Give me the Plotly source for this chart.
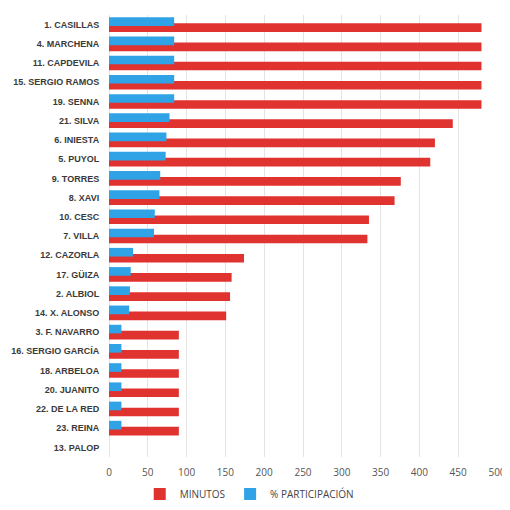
import plotly.graph_objects as go

players = ["1. CASILLAS", "4. MARCHENA", "11. CAPDEVILA", "15. SERGIO RAMOS", "19. SENNA",
           "21. SILVA", "6. INIESTA", "5. PUYOL", "9. TORRES", "8. XAVI", "10. CESC",
           "7. VILLA", "12. CAZORLA", "17. GÜIZA", "2. ALBIOL", "14. X. ALONSO",
           "3. F. NAVARRO", "16. SERGIO GARCÍA", "18. ARBELOA", "20. JUANITO",
           "22. DE LA RED", "23. REINA", "13. PALOP"]
minutos = [480, 480, 480, 480, 480, 443, 420, 414, 376, 368, 335, 333,
           174, 158, 156, 151, 90, 90, 90, 90, 90, 90, 0]
participacion = [84, 84, 84, 84, 84, 78, 74, 73, 66, 65, 59, 58,
                 31, 28, 27, 26, 16, 16, 16, 16, 16, 16, 0]
x_ticks = [0, 50, 100, 150, 200, 250, 300, 350, 400, 450, 500]

RED = "#e0322f"
BLUE = "#2fa3e6"
W = 0.45

fig = go.Figure()
fig.add_trace(go.Bar(
    y=players, x=minutos, orientation="h", name="MINUTOS",
    marker=dict(color=RED, line=dict(width=0)),
    width=W, offset=-0.069,
))
fig.add_trace(go.Bar(
    y=players, x=participacion, orientation="h", name="% PARTICIPACIÓN",
    marker=dict(color=BLUE, line=dict(width=0)),
    width=W, offset=-0.381,
))

fig.update_layout(
    width=510, height=510,
    barmode="overlay",
    margin=dict(l=101, r=21, t=7, b=61, autoexpand=False),
    paper_bgcolor="white", plot_bgcolor="white",
    showlegend=True,
    legend=dict(
        orientation="h", xref="container", x=0.473, xanchor="center",
        yref="container", y=0.047, yanchor="middle",
        font=dict(family="Open Sans", size=10, color="#444444"),
        itemwidth=30, traceorder="normal",
    ),
    xaxis=dict(
        range=[0, 500], tickvals=x_ticks, ticktext=[str(v) for v in x_ticks],
        showgrid=True, gridcolor="#e4e4e4", gridwidth=1,
        zeroline=True, zerolinecolor="#e4e4e4", zerolinewidth=1,
        showline=False, automargin=False,
        tickfont=dict(family="Open Sans", size=10, color="#555555"),
        ticks="outside", ticklen=6, tickcolor="rgba(0,0,0,0)",
        fixedrange=True,
    ),
    yaxis=dict(
        categoryorder="array", categoryarray=players,
        autorange="reversed", automargin=False,
        showgrid=False, showline=False, zeroline=False,
        tickfont=dict(family="Liberation Sans, Arial", size=9, color="#3a3a3a", weight="bold"),
        ticks="outside", ticklen=7, tickcolor="rgba(0,0,0,0)",
        fixedrange=True,
    ),
)

fig.write_html("out.html")
